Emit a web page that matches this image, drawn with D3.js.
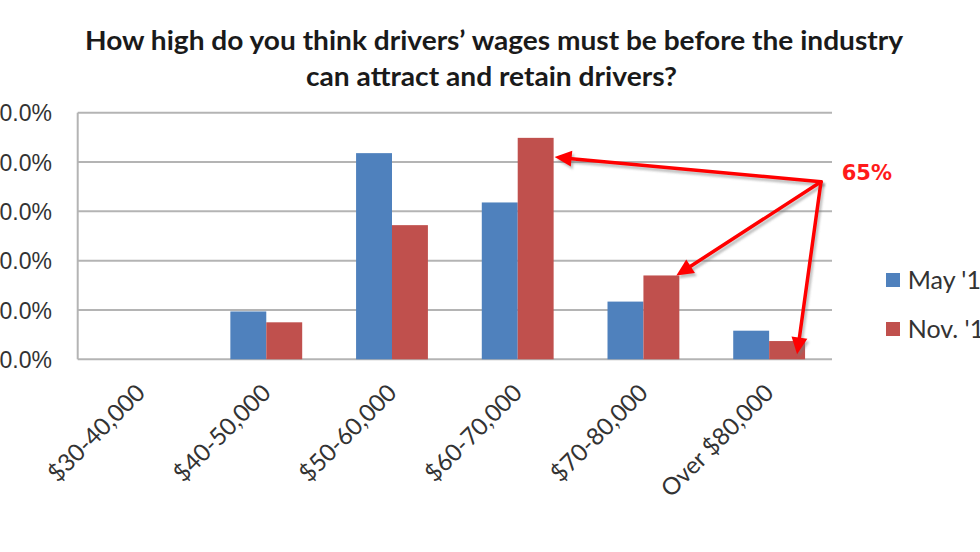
<!DOCTYPE html>
<html>
<head>
<meta charset="utf-8">
<script src="https://cdn.jsdelivr.net/npm/d3@7"></script>
<style>
  html, body { margin: 0; padding: 0; background: #fff; overflow: hidden; }
  svg { display: block; }
</style>
</head>
<body>
<svg id="chart" width="980" height="552"></svg>
<script>
// ---- Data ----
const categories = ["$30-40,000", "$40-50,000", "$50-60,000", "$60-70,000", "$70-80,000", "Over $80,000"];
const seriesNames = ["May '14", "Nov. '14"];
const mayValues = [0, 9.7, 41.8, 31.8, 11.7, 5.8];
const novValues = [0, 7.5, 27.2, 44.9, 17.0, 3.7];
const yTickValues = [0, 10, 20, 30, 40, 50];
const titleLines = ["How high do you think drivers\u2019 wages must be before the industry", "can attract and retain drivers?"];
const calloutLabel = "65%";

const seriesValues = [mayValues, novValues];
const colors = ["#4f81bd", "#c0504d"];

const svg = d3.select("#chart");
const plot = { left: 77.7, right: 832, top: 112.7, bottom: 359.3 };

const x = d3.scaleBand().domain(categories).range([plot.left, plot.right]).padding(0);
const xs = d3.scaleBand().domain([0, 1]).range([0, x.bandwidth()]).paddingInner(0).paddingOuter(0.75);
const y = d3.scaleLinear().domain([0, 50]).range([plot.bottom, plot.top]);

// ---- Title ----
const title = svg.append("g").attr("font-family", "Lato, 'Open Sans', sans-serif")
  .attr("font-weight", "bold").attr("font-size", 26).attr("fill", "#1a1a1a");
const titleSpecs = [{ x: 85, y: 50, w: 818 }, { x: 306, y: 86, w: 371 }];
titleLines.forEach((t, i) => {
  title.append("text").attr("x", titleSpecs[i].x).attr("y", titleSpecs[i].y)
    .attr("textLength", titleSpecs[i].w).attr("lengthAdjust", "spacingAndGlyphs").text(t);
});

// ---- Gridlines ----
svg.append("g").selectAll("line").data(yTickValues).join("line")
  .attr("x1", plot.left).attr("x2", plot.right)
  .attr("y1", d => y(d)).attr("y2", d => y(d))
  .attr("stroke", "#b4b4b4").attr("stroke-width", 2);
svg.append("line").attr("x1", plot.left).attr("x2", plot.left)
  .attr("y1", plot.top).attr("y2", plot.bottom)
  .attr("stroke", "#b4b4b4").attr("stroke-width", 2);

// ---- Y axis labels ----
const yAxis = d3.axisLeft(y).tickValues(yTickValues).tickFormat(d => d3.format(".1f")(d) + "%").tickSize(0).tickPadding(0);
const yg = svg.append("g").attr("transform", `translate(52,0)`).call(yAxis);
yg.select(".domain").remove();
yg.selectAll("text").attr("font-family", "'Liberation Sans', Arial, sans-serif")
  .attr("font-size", 23).attr("fill", "#333").attr("dy", "0.36em");

// ---- Bars ----
seriesValues.forEach((vals, s) => {
  svg.append("g").selectAll("rect").data(vals).join("rect")
    .attr("x", (d, i) => x(categories[i]) + xs(s))
    .attr("width", xs.bandwidth())
    .attr("y", d => y(d))
    .attr("height", d => y(0) - y(d))
    .attr("fill", colors[s]);
});

// ---- X axis labels ----
const xg = svg.append("g").attr("font-family", "Lato, 'Open Sans', sans-serif")
  .attr("font-size", 24).attr("fill", "#333");
categories.forEach(c => {
  const cx = x(c) + x.bandwidth() / 2;
  xg.append("text").attr("text-anchor", "end")
    .attr("transform", `translate(${cx + 6},${plot.bottom + 35}) rotate(-45)`)
    .text(c);
});

// ---- Legend ----
const lg = svg.append("g");
seriesNames.forEach((n, i) => {
  const ly = 280 + i * 49;
  lg.append("rect").attr("x", 886).attr("y", ly - 7).attr("width", 14).attr("height", 14).attr("fill", colors[i]);
  lg.append("text").attr("x", 907.7).attr("y", ly).attr("dy", "0.35em")
    .attr("font-family", "Lato, 'Open Sans', sans-serif").attr("font-size", 25).attr("fill", "#333").text(n);
});

// ---- Callout arrows ----
const last = categories.length - 1;
const origin = [plot.right - 11, y(36)];
const tips = [
  [x(categories[3]) + xs(1) + xs.bandwidth() + 1, y(41)],
  [x(categories[4]) + xs(1) + xs.bandwidth() - 3, y(novValues[4])],
  [x(categories[last]) + xs(1) + xs.bandwidth() / 2 + 10, y(1)]
];
const defs = svg.append("defs");
defs.append("filter").attr("id", "sh").attr("x", "-20%").attr("y", "-20%").attr("width", "140%").attr("height", "140%")
  .append("feGaussianBlur").attr("stdDeviation", 1.2);
const ann = svg.append("g");
function arrow(g, from, to, color, dx, dy, filter) {
  const ang = Math.atan2(to[1] - from[1], to[0] - from[0]);
  const headLen = 17, headW = 8;
  const bx = to[0] - headLen * Math.cos(ang), by = to[1] - headLen * Math.sin(ang);
  const grp = g.append("g").attr("transform", `translate(${dx},${dy})`);
  if (filter) grp.attr("filter", filter);
  grp.append("line").attr("x1", from[0]).attr("y1", from[1]).attr("x2", bx).attr("y2", by)
    .attr("stroke", color).attr("stroke-width", 3.5).attr("stroke-linecap", "round");
  const px = -Math.sin(ang) * headW, py = Math.cos(ang) * headW;
  grp.append("path").attr("d", `M${to[0]},${to[1]}L${bx + px},${by + py}L${bx - px},${by - py}Z`).attr("fill", color);
}
tips.forEach(t => arrow(ann, origin, t, "rgba(120,120,120,0.45)", 2, 3, "url(#sh)"));
tips.forEach(t => arrow(ann, origin, t, "#ff0000", 0, 0, null));

svg.append("text").attr("x", 841.7).attr("y", 179.5)
  .attr("font-family", "'DejaVu Sans', sans-serif").attr("font-weight", "bold").attr("font-size", 21)
  .attr("fill", "#ff1a1a").text(calloutLabel);
</script>
</body>
</html>
